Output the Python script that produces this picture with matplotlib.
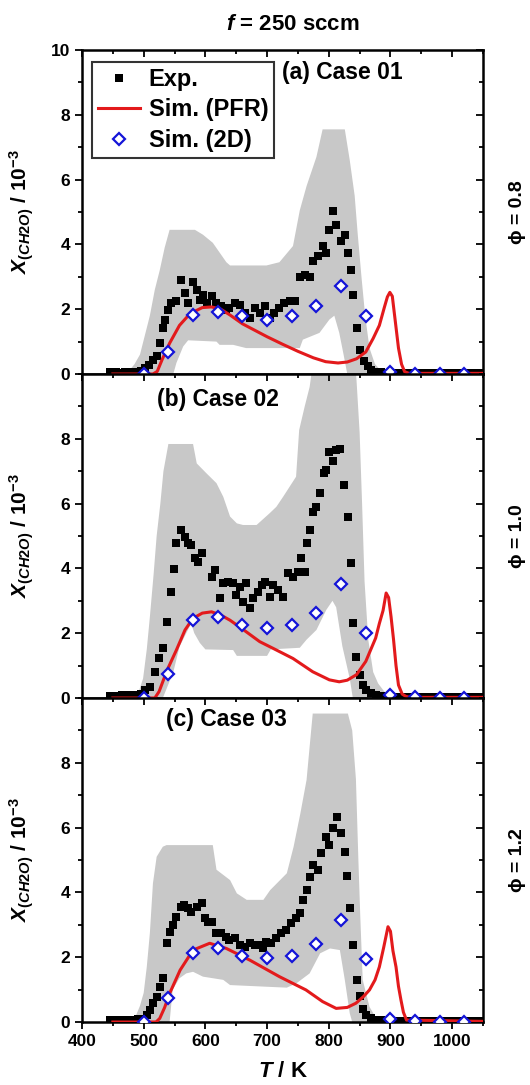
import numpy as np
import matplotlib
matplotlib.use('Agg')
import matplotlib.pyplot as plt
from matplotlib.ticker import MultipleLocator

plt.rcParams['font.family'] = ['Liberation Sans', 'DejaVu Sans']
plt.rcParams['font.weight'] = 'bold'
plt.rcParams['mathtext.fontset'] = 'custom'
plt.rcParams['mathtext.rm'] = 'Liberation Sans:bold'
plt.rcParams['mathtext.bf'] = 'Liberation Sans:bold'
plt.rcParams['mathtext.it'] = 'Liberation Sans:bold:italic'

# --- 2D simulation (diamonds), same temperatures for all cases -------------
T_2d = [500, 540, 580, 620, 660, 700, 740, 780, 820, 860, 900, 940, 980, 1020]
x2d_a = [0.0, 0.68, 1.83, 1.91, 1.78, 1.68, 1.78, 2.09, 2.73, 1.80, 0.07, 0.0, 0.0, 0.0]
x2d_b = [0.0, 0.74, 2.41, 2.51, 2.25, 2.15, 2.25, 2.63, 3.51, 2.02, 0.09, 0.02, 0.0, 0.0]
x2d_c = [0.0, 0.75, 2.14, 2.27, 2.04, 1.97, 2.04, 2.40, 3.15, 1.93, 0.08, 0.04, 0.0, 0.0]

# --- PFR simulation (red line) ----------------------------------------------
T_pfr_a = [450, 515, 522, 530, 542, 558, 575, 595, 610, 625, 640, 660, 680, 700,
           725, 750, 775, 795, 815, 830, 845, 860, 872, 882, 890, 895, 899, 903,
           908, 913, 918, 923, 930, 1050]
x_pfr_a = [0.0, 0.0, 0.08, 0.45, 0.95, 1.5, 1.86, 2.05, 2.07, 2.0, 1.82, 1.55,
           1.35, 1.15, 0.92, 0.7, 0.5, 0.38, 0.34, 0.37, 0.47, 0.68, 1.1, 1.5,
           2.05, 2.38, 2.52, 2.4, 1.6, 0.8, 0.3, 0.07, 0.02, 0.02]

T_pfr_b = [450, 518, 525, 538, 553, 567, 580, 595, 610, 625, 640, 660, 688, 710,
           742, 774, 801, 817, 830, 845, 860, 876, 882, 888, 893, 897, 901, 905,
           909, 913, 919, 925, 932, 1050]
x_pfr_b = [0.0, 0.0, 0.2, 0.86, 1.48, 2.1, 2.46, 2.62, 2.66, 2.56, 2.4, 2.13,
           1.74, 1.53, 1.22, 0.81, 0.56, 0.5, 0.55, 0.72, 1.13, 1.85, 2.3, 2.7,
           3.24, 3.1, 2.5, 1.8, 1.0, 0.4, 0.12, 0.05, 0.02, 0.02]

T_pfr_c = [450, 520, 526, 534, 542, 559, 580, 607, 634, 672, 720, 763, 790, 812,
           830, 844, 856, 866, 875, 882, 889, 896, 900, 904, 909, 913, 917, 921,
           926, 1050]
x_pfr_c = [0.0, 0.0, 0.11, 0.45, 0.88, 1.6, 2.22, 2.43, 2.27, 1.91, 1.4, 0.99,
           0.63, 0.42, 0.45, 0.58, 0.78, 0.99, 1.3, 1.7, 2.3, 2.94, 2.8, 2.2, 1.7,
           1.1, 0.68, 0.3, 0.06, 0.02]

# --- Experiment (black squares) ----------------------------------------------
T_base_left = [445, 450, 455, 460, 465, 470, 475, 480, 485, 490, 495]
T_base_right = [885, 890, 895, 900, 905, 910, 915, 920, 925, 930, 935, 940, 945,
                950, 955, 960, 965, 970, 975, 980, 985, 990, 995, 1000, 1005,
                1010, 1015, 1020, 1025, 1030, 1035, 1040, 1045]
base_right = [0.05, 0.04, 0.04, 0.03, 0.03, 0.03, 0.03, 0.02, 0.02, 0.02, 0.02,
              0.02, 0.02, 0.02, 0.02, 0.02, 0.02, 0.02, 0.02, 0.02, 0.02, 0.02,
              0.02, 0.02, 0.02, 0.02, 0.02, 0.02, 0.02, 0.02, 0.02, 0.02, 0.02]

T_exp_a = T_base_left + [502, 508, 515, 521, 526, 532, 534, 540, 545, 553, 561,
                         567, 572, 580, 586, 591, 596, 602, 610, 618, 626, 634,
                         639, 648, 656, 664, 672, 680, 688, 696, 704, 712, 720,
                         728, 737, 745, 753, 761, 769, 774, 782, 790, 796, 801,
                         807, 812, 820, 826, 831, 836, 840, 846, 851, 857, 863,
                         869, 877] + T_base_right
x_exp_a = [0.05, 0.04, 0.05, 0.03, 0.04, 0.05, 0.04, 0.06, 0.05, 0.07, 0.08] + \
          [0.19, 0.29, 0.44, 0.55, 0.96, 1.42, 1.68, 1.99, 2.19, 2.24, 2.91,
           2.5, 2.19, 2.83, 2.6, 2.29, 2.45, 2.19, 2.4, 2.19, 2.09, 1.99,
           2.04, 2.19, 2.14, 1.88, 1.73, 2.04, 1.88, 2.09, 1.73, 1.88, 2.04,
           2.19, 2.24, 2.24, 3.0, 3.06, 3.0, 3.48, 3.63, 3.94, 3.73, 4.45,
           5.02, 4.61, 4.09, 4.3, 3.73, 3.22, 2.45, 1.42, 0.75, 0.39, 0.24,
           0.13, 0.07] + base_right

T_exp_b = T_base_left + [502, 510, 518, 525, 532, 538, 544, 549, 553, 560, 567,
                         572, 577, 583, 588, 595, 610, 615, 623, 629, 637, 645,
                         650, 656, 661, 666, 672, 677, 685, 691, 696, 704, 710,
                         718, 726, 734, 742, 750, 755, 761, 764, 770, 775, 780,
                         785, 792, 796, 800, 807, 812, 819, 824, 831, 836, 840,
                         844, 851, 855, 861, 869, 877] + T_base_right
x_exp_b = [0.06, 0.05, 0.07, 0.06, 0.08, 0.08, 0.09, 0.09, 0.1, 0.1, 0.12] + \
          [0.25, 0.35, 0.81, 1.22, 1.53, 2.36, 3.28, 3.98, 4.77, 5.19, 4.98,
           4.77, 4.72, 4.31, 4.21, 4.47, 3.74, 3.95, 3.08, 3.54, 3.59, 3.54,
           3.18, 3.44, 2.97, 3.54, 2.77, 3.08, 3.28, 3.49, 3.59, 3.13, 3.49,
           3.33, 3.13, 3.85, 3.74, 3.9, 4.31, 3.9, 4.77, 5.19, 5.75, 5.91,
           6.32, 6.93, 7.04, 7.6, 7.33, 7.65, 7.7, 6.57, 5.6, 4.16, 2.3,
           1.28, 0.71, 0.4, 0.25, 0.14, 0.09] + base_right

T_exp_c = T_base_left + [505, 510, 515, 521, 526, 532, 537, 542, 548, 553, 560,
                         565, 572, 577, 586, 594, 599, 604, 610, 618, 626, 634,
                         639, 648, 656, 664, 672, 680, 688, 693, 699, 707, 715,
                         723, 731, 739, 747, 753, 758, 765, 770, 775, 782, 788,
                         796, 801, 807, 813, 820, 826, 829, 834, 839, 846, 850,
                         855, 861, 869, 877] + T_base_right
x_exp_c = [0.05, 0.04, 0.05, 0.04, 0.05, 0.05, 0.06, 0.06, 0.07, 0.08, 0.08] + \
          [0.22, 0.37, 0.6, 0.78, 1.09, 1.35, 2.43, 2.79, 3.0, 3.25, 3.56,
           3.61, 3.51, 3.4, 3.56, 3.66, 3.2, 3.1, 3.1, 2.74, 2.74, 2.63,
           2.53, 2.58, 2.38, 2.33, 2.43, 2.38, 2.38, 2.27, 2.48, 2.43, 2.58,
           2.74, 2.84, 3.05, 3.2, 3.35, 3.77, 4.07, 4.49, 4.85, 4.69, 5.21,
           5.72, 5.46, 5.98, 6.34, 5.82, 5.26, 4.5, 3.51, 2.38, 1.3, 0.8,
           0.4, 0.22, 0.11, 0.06] + base_right

# --- experimental uncertainty band (gray) ------------------------------------
T_up_a = [472, 485, 494, 502, 510, 518, 526, 534, 542, 583, 596, 612, 623, 634,
          640, 699, 720, 742, 753, 764, 780, 790, 826, 834, 842, 847, 853, 859,
          866, 875, 885, 892]
up_a = [0, 0.3, 0.6, 1.2, 1.8, 2.6, 3.2, 3.9, 4.45, 4.45, 4.3, 4.05, 3.75, 3.45,
        3.35, 3.35, 3.45, 3.95, 5.05, 5.8, 6.7, 7.55, 7.55, 6.6, 5.5, 4.3, 3.0,
        1.8, 0.8, 0.3, 0.1, 0]
T_lo_a = [472, 548, 553, 564, 572, 618, 623, 645, 666, 753, 758, 785, 801, 809,
          817, 824, 830, 892]
lo_a = [0, 0, 0.34, 0.85, 1.04, 1.0, 0.9, 0.9, 0.8, 0.8, 1.06, 1.27, 1.68, 1.8,
        1.27, 0.6, 0, 0]

T_up_b = [486, 492, 499, 505, 510, 516, 521, 527, 532, 540, 580, 586, 602, 618,
          629, 640, 651, 661, 683, 704, 715, 726, 747, 752, 761, 769, 774, 780,
          840, 845, 850, 854, 858, 864, 872, 880, 890, 903, 910]
up_b = [0, 0.2, 0.6, 1.5, 2.5, 3.8, 5.0, 6.0, 7.0, 7.84, 7.84, 7.24, 6.93, 6.63,
        6.21, 5.6, 5.39, 5.34, 5.34, 5.7, 5.9, 6.21, 6.83, 8.27, 9.0, 9.6, 10.3,
        11, 11, 9.8, 8.2, 6.0, 3.6, 1.8, 0.8, 0.45, 0.2, 0.08, 0]
T_lo_b = [486, 531, 548, 558, 569, 577, 582, 591, 600, 645, 651, 700, 706, 753,
          764, 780, 796, 806, 812, 822, 834, 839, 910]
lo_b = [0, 0, 0.8, 1.58, 2.0, 2.3, 2.0, 1.7, 1.5, 1.48, 1.3, 1.3, 1.5, 1.55,
        1.8, 2.1, 2.72, 3.0, 2.8, 1.6, 0.6, 0, 0]

T_up_c = [483, 489, 494, 500, 505, 510, 515, 521, 531, 537, 612, 618, 640, 651,
          667, 694, 705, 732, 743, 754, 764, 769, 774, 831, 838, 844, 848, 851,
          855, 866, 877, 885]
up_c = [0, 0.27, 0.5, 0.9, 1.7, 2.74, 4.28, 5.1, 5.41, 5.46, 5.46, 4.7, 4.38,
        3.97, 3.77, 3.77, 4.07, 4.59, 5.41, 6.44, 7.47, 8.5, 9.52, 9.52, 9.0,
        7.5, 5.0, 3.3, 1.3, 0.47, 0.11, 0]
T_lo_c = [483, 542, 547, 558, 569, 580, 596, 629, 640, 732, 748, 769, 786, 802,
          818, 826, 834, 838, 885]
lo_c = [0, 0, 1.0, 1.35, 1.5, 1.55, 1.4, 1.3, 1.14, 1.06, 1.2, 1.5, 2.12, 2.27,
        2.22, 1.3, 0.27, 0, 0]

cases = ['(a) Case 01', '(b) Case 02', '(c) Case 03']
phi_labels = ['\u03d5 = 0.8', '\u03d5 = 1.0', '\u03d5 = 1.2']
panels = [
    (T_exp_a, x_exp_a, T_pfr_a, x_pfr_a, x2d_a, T_up_a, up_a, T_lo_a, lo_a),
    (T_exp_b, x_exp_b, T_pfr_b, x_pfr_b, x2d_b, T_up_b, up_b, T_lo_b, lo_b),
    (T_exp_c, x_exp_c, T_pfr_c, x_pfr_c, x2d_c, T_up_c, up_c, T_lo_c, lo_c),
]
case_pos = [(0.498, 0.93), (0.187, 0.92), (0.21, 0.935)]

fig = plt.figure(figsize=(5.30, 10.85), dpi=100)
left, width = 82 / 530, 401 / 530
h = 324 / 1085
bottoms = [1 - 374 / 1085, 1 - 698 / 1085, 1 - 1022 / 1085]

for i, (T_exp, x_exp, T_pfr, x_pfr, x2d, T_up, up, T_lo, lo) in enumerate(panels):
    ax = fig.add_axes([left, bottoms[i], width, h])

    # gray band as a polygon: upper edge left->right, lower edge right->left
    ax.fill(np.r_[T_up, T_lo[::-1]], np.r_[up, lo[::-1]],
            color='#c8c8c8', lw=0, zorder=1)
    ax.plot(T_exp, x_exp, 's', color='black', ms=5.8, mew=0, zorder=2,
            label='Exp.')
    ax.plot(T_pfr, x_pfr, '-', color='#e31a1c', lw=2.2, zorder=3,
            label='Sim. (PFR)')
    ax.plot(T_2d, x2d, 'D', mfc='white', mec='#1414d8', mew=1.6, ms=6.5,
            zorder=4, label='Sim. (2D)')

    ax.set_xlim(400, 1050)
    ax.set_ylim(0, 10)
    ax.xaxis.set_major_locator(MultipleLocator(100))
    ax.xaxis.set_minor_locator(MultipleLocator(50))
    ax.set_yticks([0, 2, 4, 6, 8, 10] if i == 0 else [0, 2, 4, 6, 8])
    ax.yaxis.set_minor_locator(MultipleLocator(1))
    ax.tick_params(which='both', top=True, right=True, width=1.3,
                   labelsize=12.5, direction='out')
    ax.tick_params(which='major', length=5)
    ax.tick_params(which='minor', length=3)
    # top and right ticks point into the axes
    for t in ax.xaxis.get_ticklines()[1::2] + ax.xaxis.get_ticklines(minor=True)[1::2]:
        t.set_marker(3)
    for t in ax.yaxis.get_ticklines()[1::2] + ax.yaxis.get_ticklines(minor=True)[1::2]:
        t.set_marker(0)
    for sp in ax.spines.values():
        sp.set_linewidth(1.8)
    if i < 2:
        ax.tick_params(axis='x', labelbottom=False)
    else:
        ax.set_xlabel(r'$T$ / K', fontsize=16, fontweight='bold')
        ax.xaxis.set_label_coords(0.5, -0.12)

    ax.set_ylabel(r'$X_{(CH2O)}$ / 10$^{-3}$', fontsize=15, fontweight='bold')
    ax.yaxis.set_label_coords(-0.115, 0.5)

    ax.text(case_pos[i][0], case_pos[i][1], cases[i], transform=ax.transAxes,
            fontsize=16.5, fontweight='bold', ha='left', va='center')
    ax.text(1.085, 0.5, phi_labels[i], transform=ax.transAxes, rotation=90,
            fontsize=14, fontweight='bold', ha='center', va='center')

    if i == 0:
        leg = ax.legend(loc='upper left', bbox_to_anchor=(0.025, 0.963),
                        borderaxespad=0, fontsize=17, frameon=True,
                        fancybox=False, edgecolor='black', handlelength=1.8,
                        labelspacing=0.32, borderpad=0.25, handletextpad=0.35,
                        numpoints=1)
        leg.get_frame().set_linewidth(1.5)

fig.text(293 / 530, 1 - 25 / 1085, r'$f$ = 250 sccm', fontsize=16,
         fontweight='bold', ha='center', va='center')

fig.savefig('out.png', dpi=100)
